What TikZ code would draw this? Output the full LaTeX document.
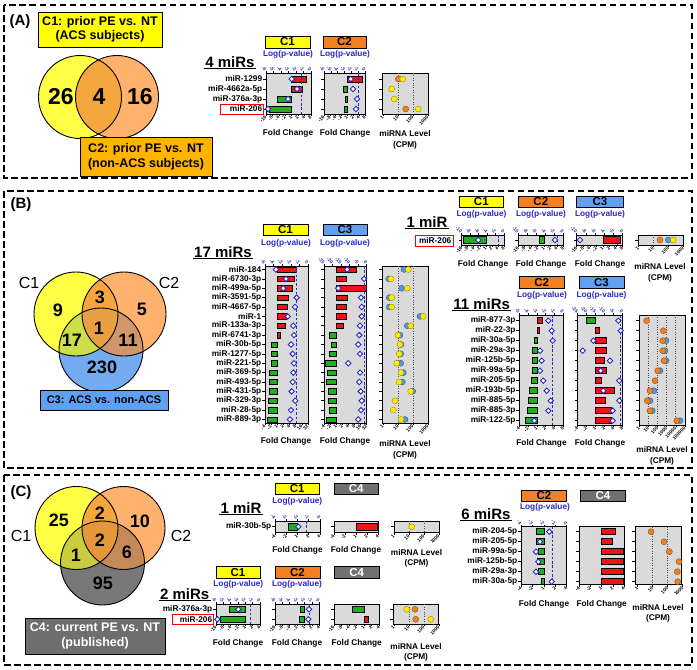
\documentclass[tikz,border=0pt]{standalone}
\usepackage{fontspec}
\setmainfont{Liberation Sans}
\usetikzlibrary{calc}
\definecolor{vyel}{RGB}{255,255,70}
\definecolor{vor}{RGB}{255,178,110}
\definecolor{vblue}{RGB}{116,170,240}
\definecolor{vgray}{RGB}{120,120,120}
\definecolor{vyo}{RGB}{246,166,62}
\definecolor{vyb}{RGB}{205,222,75}
\definecolor{vob}{RGB}{208,150,108}
\definecolor{vyob}{RGB}{232,160,68}
\definecolor{vyg}{RGB}{202,204,62}
\definecolor{vog}{RGB}{198,138,88}
\definecolor{vyog}{RGB}{228,152,58}
\definecolor{boxamber}{RGB}{255,180,0}
\definecolor{hyel}{RGB}{255,255,0}
\definecolor{hor}{RGB}{245,128,32}
\definecolor{hblue}{RGB}{95,160,240}
\definecolor{hgray}{RGB}{112,112,112}
\definecolor{c4gray}{RGB}{110,110,110}
\definecolor{boxgray}{RGB}{218,218,218}
\definecolor{fcred}{RGB}{238,20,20}
\definecolor{fcgreen}{RGB}{30,175,30}
\definecolor{pblue}{RGB}{40,40,200}
\definecolor{dyel}{RGB}{255,235,0}
\definecolor{dor}{RGB}{240,130,30}
\definecolor{dblue}{RGB}{85,150,230}
\newcommand\myfs[1]{\fontsize{#1}{#1}\selectfont\bfseries}
\newcounter{nn}
\tikzset{
 panel/.style={draw=black, line width=1.8pt, dash pattern=on 6.5pt off 3.5pt},
 plab/.style={font=\myfs{15}, inner sep=0pt},
 cbx/.style={draw=black, line width=0.9pt, align=center, inner sep=0pt, font=\fontsize{12.5}{14.5}\selectfont\bfseries},
 vline/.style={draw=black, line width=0.9pt},
 vnum/.style={font=\myfs{18}, inner sep=0pt},
 vlab/.style={font=\fontsize{16}{16}\selectfont, inner sep=0pt},
 mirs/.style={font=\myfs{15}, inner sep=1.2pt},
 cbox/.style={draw=black, line width=0.8pt, fill=boxgray},
 tk/.style={draw=black, line width=0.6pt},
 blab/.style={font=\myfs{4.8}, inner sep=0.2pt, rotate=45, anchor=east},
 tlab/.style={font=\myfs{4.8}, text=pblue, inner sep=0.2pt, rotate=-45, anchor=east},
 rlab/.style={font=\myfs{8.3}, inner sep=0pt, anchor=east},
 bar/.style={draw=black, line width=0.5pt},
 dmd/.style={draw=pblue, fill=white, line width=0.9pt},
 pdash/.style={draw=pblue, line width=0.8pt, dash pattern=on 2.5pt off 1.8pt},
 hdrst/.style={draw=black, line width=0.8pt},
 hdrtxt/.style={font=\myfs{11.5}, inner sep=0pt},
 logst/.style={font=\myfs{8.3}, text=pblue, inner sep=0pt},
 fcst/.style={font=\myfs{8.3}, inner sep=0pt},
 redbox/.style={draw=red, line width=0.9pt},
 lvdot/.style={line width=0.4pt},
 lvgrid/.style={draw=black!70, line width=0.8pt, dash pattern=on 0.8pt off 1.6pt},
}
\newcommand\baxis[5]{%
  \foreach \lab [count=\kk from 0] in {#5}{%
    \pgfmathsetmacro\xx{#1+\kk*(#2-#1)/#4}%
    \draw[tk] (\xx,#3) -- (\xx,#3+2.2);%
    \stepcounter{nn}\node[blab] (t\thenn) at (\xx,#3+2.6) {\lab};}}
\newcommand\taxis[5]{%
  \foreach \lab [count=\kk from 0] in {#5}{%
    \pgfmathsetmacro\xx{#1+\kk*(#2-#1)/#4}%
    \draw[tk] (\xx,#3) -- (\xx,#3-2.2);%
    \stepcounter{nn}\node[tlab] (t\thenn) at (\xx,#3-2.6) {\lab};}}
\newcommand\rowlabs[4]{%
  \foreach \lab [count=\kk from 0] in {#4}{%
    \pgfmathsetmacro\yy{#2+\kk*#3}%
    \draw[tk] (#1,\yy) -- (#1-3,\yy);%
    \stepcounter{nn}\node[rlab] (t\thenn) at (#1-3.6,\yy) {\lab};}}
\newcommand\rowticks[4]{%
  \foreach \kk in {1,...,#4}{%
    \pgfmathsetmacro\yy{#2+(\kk-1)*#3}%
    \draw[tk] (#1,\yy) -- (#1-3,\yy);}}
\newcommand\fcrows[8]{%
  \foreach \ri/\re/\rd in {#8}{%
    \pgfmathsetmacro\yy{#2+(\ri-1)*#3}%
    \ifdim\re pt>#1pt\def\bc{fcred}\else\def\bc{fcgreen}\fi
    \draw[bar,fill=\bc] (#1,\yy-#4) rectangle (\re,\yy+#4);}%
  \draw[pdash] (#5,#6) -- (#5,#7);%
  \foreach \ri/\re/\rd in {#8}{%
    \pgfmathsetmacro\yy{#2+(\ri-1)*#3}%
    \draw[dmd] (\rd,\yy-2.7) -- (\rd+2.7,\yy) -- (\rd,\yy+2.7) -- (\rd-2.7,\yy) -- cycle;}}
\newcommand\fcbars[5]{%
  \foreach \ri/\re in {#5}{%
    \pgfmathsetmacro\yy{#2+(\ri-1)*#3}%
    \ifdim\re pt>#1pt\def\bc{fcred}\else\def\bc{fcgreen}\fi
    \draw[bar,fill=\bc] (#1,\yy-#4) rectangle (\re,\yy+#4);}}
\newcommand\lvframe[8]{%
  \draw[cbox] (#1,#2) rectangle (#3,#4);%
  \foreach \kk in {#7}{\draw[lvgrid] (#5+\kk*#6,#2) -- (#5+\kk*#6,#4);}%
  \foreach \lab [count=\kk from 0] in {#8}{%
    \pgfmathsetmacro\xx{#5+\kk*#6}%
    \draw[tk] (\xx,#4) -- (\xx,#4+2.2);%
    \stepcounter{nn}\node[blab] (t\thenn) at (\xx,#4+2.6) {\lab};}}
\newcommand\lvdots[3]{%
  \foreach \ri/\px/\cc in {#3}{%
    \pgfmathsetmacro\yy{#1+(\ri-1)*#2}%
    \draw[lvdot, draw=\cc!60!black, fill=\cc] (\px,\yy) circle[radius=3pt];}}
\newcommand\hdr[7]{%
  \draw[hdrst, fill=#5] (#1,#2) rectangle (#3,#4);%
  \stepcounter{nn}\node[hdrtxt, text=#6] (t\thenn) at ({(#1+#3)/2},{(#2+#4)/2}) {#7};}
\newcommand\myuline[1]{\draw[line width=1.1pt] (#1.south west) -- (#1.south east);}
\begin{document}
\begin{tikzpicture}[x=1pt,y=-1pt,font=\bfseries]
\useasboundingbox (0,0) rectangle (697,670);
\fill[white] (0,0) rectangle (697,670);

%%%%%%%%%%%%%%%% PANEL A
\draw[panel] (4,5) rectangle (692,178);
\node[plab] (pA) at (20,22) {(A)};
\fill[vyel] (80,97) circle[radius=41.5pt];
\fill[vor] (117,97) circle[radius=41.5pt];
\begin{scope}
 \clip (80,97) circle[radius=41.5pt];
 \fill[vyo] (117,97) circle[radius=41.5pt];
\end{scope}
\draw[vline] (80,97) circle[radius=41.5pt];
\draw[vline] (117,97) circle[radius=41.5pt];
\node[vnum, font=\myfs{23}] (a26) at (61,97) {26};
\node[vnum, font=\myfs{23}] (a4) at (99,97) {4};
\node[vnum, font=\myfs{23}] (a16) at (140,97) {16};
\node[cbx, fill=hyel, minimum width=124pt, minimum height=35pt] (c1box) at (100,29.5) {C1: prior PE vs. NT\\(ACS subjects)};
\node[cbx, fill=boxamber, minimum width=132pt, minimum height=39pt] (c2box) at (146,157) {C2: prior PE vs. NT\\(non-ACS subjects)};

\node[mirs] (m4) at (230,62) {4 miRs};
\myuline{m4}
% A C1
\hdr{265}{36}{310}{48}{hyel}{black}{C1}
\node[logst] (alog1) at (288,54) {Log(p-value)};
\draw[cbox] (266,73) rectangle (311,114);
\fcrows{291.7}{79}{10}{3.2}{301}{73}{114}{1/306/291.7,2/302.7/297,3/277.3/288,4/269.3/268}
\taxis{266}{311}{73}{6}{-6,-5,-4,-3,-2,-1,0}
\baxis{266}{311}{114}{7}{-16,-8,-4,-2,1,2,4,8}
\rowlabs{266}{79}{10}{miR-1299,miR-4662a-5p,miR-376a-3p,miR-206}
\draw[redbox] (220,104) rectangle (263.5,114.3);
\node[fcst] (afc1) at (288,133) {Fold Change};
% A C2
\hdr{323}{36}{366}{48}{hor}{black}{C2}
\node[logst] (alog2) at (345,54) {Log(p-value)};
\draw[cbox] (324,73) rectangle (365,114);
\fcrows{347.4}{79}{10}{3.2}{358}{73}{114}{1/362/350.7,2/343/353,3/345/357,4/344/356}
\taxis{324}{365}{73}{6}{-6,-5,-4,-3,-2,-1,0}
\baxis{324}{365}{114}{7}{-16,-8,-4,-2,1,2,4,8}
\rowticks{324}{79}{10}{4}
\node[fcst] (afc2) at (345,133) {Fold Change};
% A level
\lvframe{382}{73}{428}{114}{383}{15}{1,2}{1,10,100,1000}
\rowticks{382}{79}{10}{4}
\lvdots{79}{10}{1/398.3/dor,1/402.7/dyel,2/391.7/dyel,3/394.3/dyel,4/405.7/dor,4/418.3/dyel}
\node[fcst] (alv1) at (405,134) {miRNA Level};
\node[fcst] (alv2) at (405,145) {(CPM)};

%%%%%%%%%%%%%%%% PANEL B
\draw[panel] (4,191) rectangle (692,468);
\node[plab] (pB) at (21,205) {(B)};
\fill[vblue] (101,350) circle[radius=42pt];
\fill[vyel] (76,314) circle[radius=42pt];
\fill[vor] (124,314) circle[radius=42pt];
\begin{scope}
 \clip (76,314) circle[radius=42pt];
 \fill[vyo] (124,314) circle[radius=42pt];
 \fill[vyb] (101,350) circle[radius=42pt];
\end{scope}
\begin{scope}
 \clip (124,314) circle[radius=42pt];
 \fill[vob] (101,350) circle[radius=42pt];
\end{scope}
\begin{scope}
 \clip (76,314) circle[radius=42pt];
 \clip (124,314) circle[radius=42pt];
 \fill[vyob] (101,350) circle[radius=42pt];
\end{scope}
\draw[vline] (101,350) circle[radius=42pt];
\draw[vline] (76,314) circle[radius=42pt];
\draw[vline] (124,314) circle[radius=42pt];
\node[vlab] (bc1) at (29,283) {C1};
\node[vlab] (bc2) at (169,283) {C2};
\node[vnum] (b9) at (58,310) {9};
\node[vnum] (b3) at (100,297) {3};
\node[vnum] (b5) at (142,309) {5};
\node[vnum] (b1) at (99,328) {1};
\node[vnum] (b17) at (72,340) {17};
\node[vnum] (b11) at (128,340) {11};
\node[vnum] (b230) at (102,367) {230};
\node[cbx, fill=hblue, minimum width=128pt, minimum height=20pt, font=\myfs{11}] (c3box) at (104,400) {C3: ACS vs. non-ACS};

\node[mirs] (m17) at (223,252) {17 miRs};
\myuline{m17}
% B C1
\hdr{263}{224}{308}{235}{hyel}{black}{C1}
\node[logst] (blog1) at (286,243) {Log(p-value)};
\draw[cbox] (265,266) rectangle (308,423);
\fcrows{277.3}{269.5}{9.375}{2.7}{296.8}{266}{423}{1/296.7/276,2/294/286,3/292.3/283.3,4/288.3/296.7,5/287.7/295,6/286.7/287.7,7/285.7/293.3,8/280.7/294,9/271.7/291,10/271.7/292.7,11/271/294,12/269.3/293.3,13/269.3/292.7,14/269.3/291.7,15/268.7/295.3,16/268.3/291,17/267.3/290}
\taxis{265}{308}{266}{5}{-5,-4,-3,-2,-1,0}
\baxis{265}{308}{423}{7}{-4,-2,1,2,4,8,16,32}
\rowlabs{265}{269.5}{9.375}{miR-184,miR-6730-3p,miR-499a-5p,miR-3591-5p,miR-4667-5p,miR-1,miR-133a-3p,miR-6741-3p,miR-30b-5p,miR-1277-5p,miR-221-5p,miR-369-5p,miR-493-5p,miR-431-5p,miR-329-3p,miR-28-5p,miR-889-3p}
\node[fcst] (bfc1) at (286,441) {Fold Change};
% B C3
\hdr{323}{224}{367}{235}{hblue}{black}{C3}
\node[logst] (blog3) at (345,243) {Log(p-value)};
\draw[cbox] (324.3,266) rectangle (366.7,423);
\fcrows{336.4}{269.5}{9.375}{2.7}{364.5}{266}{423}{1/356.7/347.3,2/346/364,3/366.7/338.3,4/347.3/361,5/346/361.7,6/346/361.7,7/343.3/360,8/329.3/359.3,9/331.7/358.3,10/329.3/360,11/325/348.3,12/327.7/360,13/326.7/359.3,14/328.3/360.7,15/328.3/361.7,16/329.3/361,17/326/358.3}
\taxis{324.3}{366.7}{266}{5}{-25,-20,-15,-10,-5,0}
\baxis{324.3}{366.7}{423}{7}{-4,-2,1,2,4,8,16,32}
\rowticks{324.3}{269.5}{9.375}{17}
\node[fcst] (bfc3) at (345,441) {Fold Change};
% B level
\lvframe{382}{266}{428}{423}{383}{15}{1,2}{1,10,100,1000}
\rowticks{382}{269.5}{9.375}{17}
\lvdots{269.5}{9.375}{1/404/dblue,1/408.3/dyel,2/388.7/dblue,2/391/dyel,3/401.7/dblue,3/407.3/dyel,4/389.3/dblue,4/391.7/dyel,5/389.3/dblue,5/391.7/dyel,6/420/dblue,6/423.3/dyel,7/407.3/dblue,7/410.7/dyel,8/400/dblue,8/397.7/dyel,9/401/dblue,9/400/dyel,10/400.7/dblue,10/399.3/dyel,11/400.7/dblue,11/396.7/dyel,12/403.3/dblue,12/401/dyel,13/402.3/dblue,13/399/dyel,14/412.7/dblue,14/410.7/dyel,15/395/dyel,16/393.3/dyel,17/405/dblue,17/401/dyel}
\node[fcst] (blv1) at (405,444) {miRNA Level};
\node[fcst] (blv2) at (405,455) {(CPM)};

% B 1 miR
\node[mirs] (m1b) at (427,222) {1 miR};
\myuline{m1b}
\node[rlab] (l206b) at (451.5,240.5) {miR-206};
\draw[redbox] (415,235) rectangle (453.5,246);
\rowticks{461.7}{240}{10}{1}
\hdr{459.3}{196}{503.3}{207}{hyel}{black}{C1}
\node[logst] (b1log1) at (481.5,214) {Log(p-value)};
\draw[cbox] (461.7,235) rectangle (504,245);
\fcrows{485.9}{240}{10}{3.3}{498.5}{235}{245}{1/463.3/478.3}
\taxis{461.7}{504}{235}{5}{-10,-8,-6,-4,-2,0}
\baxis{461.7}{504}{245}{7}{-16,-8,-4,-2,1,2,4,8}
\node[fcst] (b1fc1) at (483,264) {Fold Change};
\hdr{518.3}{196}{563.3}{207}{hor}{black}{C2}
\node[logst] (b1log2) at (541,214) {Log(p-value)};
\draw[cbox] (518.3,235) rectangle (563.3,245);
\rowticks{518.3}{240}{10}{1}
\fcrows{544}{240}{10}{3.3}{557.5}{235}{245}{1/539.3/555}
\taxis{518.3}{563.3}{235}{5}{-10,-8,-6,-4,-2,0}
\baxis{518.3}{563.3}{245}{7}{-16,-8,-4,-2,1,2,4,8}
\node[fcst] (b1fc2) at (541,264) {Fold Change};
\hdr{576.7}{196}{623}{207}{hblue}{black}{C3}
\node[logst] (b1log3) at (600,214) {Log(p-value)};
\draw[cbox] (576.7,235) rectangle (622.7,245);
\rowticks{576.7}{240}{10}{1}
\fcrows{603}{240}{10}{3.3}{617.5}{235}{245}{1/620/580}
\taxis{576.7}{622.7}{235}{5}{-10,-8,-6,-4,-2,0}
\baxis{576.7}{622.7}{245}{7}{-16,-8,-4,-2,1,2,4,8}
\node[fcst] (b1fc3) at (600,264) {Fold Change};
\lvframe{638.3}{235}{683.3}{245}{638.3}{15}{1,2}{1,10,100,1000}
\rowticks{638.3}{240}{10}{1}
\lvdots{240}{10}{1/660/dor,1/668.3/dblue,1/673.3/dyel}
\node[fcst] (b1lv1) at (660,267) {miRNA Level};
\node[fcst] (b1lv2) at (660,278) {(CPM)};

% B 11 miRs
\node[mirs] (m11) at (481.7,304) {11 miRs};
\myuline{m11}
\hdr{519.3}{276.7}{564}{288.3}{hor}{black}{C2}
\node[logst] (b11log2) at (542,295) {Log(p-value)};
\draw[cbox] (519.3,315) rectangle (563.3,425);
\fcrows{536.9}{320.7}{10}{3}{551.9}{315}{425}{1/542.7/548.3,2/539.3/551.7,3/534.3/552.7,4/532.7/540,5/532.3/541.7,6/532.3/540,7/531.7/543.3,8/529/546.7,9/528.3/550.7,10/527.3/548.3,11/525/534.3}
\taxis{519.3}{563.3}{315}{5}{-5,-4,-3,-2,-1,0}
\baxis{519.3}{563.3}{425}{5}{-4,-2,1,2,4,8}
\rowlabs{519.3}{320.7}{10}{miR-877-3p,miR-22-3p,miR-30a-5p,miR-29a-3p,miR-125b-5p,miR-99a-5p,miR-205-5p,miR-193b-5p,miR-885-5p,miR-885-3p,miR-122-5p}
\node[fcst] (b11fc2) at (541.5,443) {Fold Change};
\hdr{579}{276.7}{624}{288.3}{hblue}{black}{C3}
\node[logst] (b11log3) at (601.5,295) {Log(p-value)};
\draw[cbox] (577.7,315) rectangle (622.7,425);
\rowticks{577.7}{320.7}{10}{11}
\fcrows{595.7}{320.7}{10}{3}{620.4}{315}{425}{1/586.7/618.3,2/599.3/620.7,3/606.7/593.3,4/606/582.7,5/604.3/610,6/606.7/600.7,7/601/619.3,8/614.3/603.3,9/605.7/619.3,10/611.7/612.7,11/611.7/612.7}
\taxis{577.7}{622.7}{315}{5}{-25,-20,-15,-10,-5,0}
\baxis{577.7}{622.7}{425}{5}{-4,-2,1,2,4,8}
\node[fcst] (b11fc3) at (600,443) {Fold Change};
\lvframe{639.3}{315}{685}{425}{639.3}{9.14}{1,2,3,4}{1,10,100,1000,10000,100000}
\rowticks{639.3}{320.7}{10}{11}
\lvdots{320.7}{10}{1/646.7/dor,2/663.3/dor,3/666/dblue,3/662.7/dor,4/665/dblue,4/662.7/dor,5/666/dblue,5/664/dor,6/660/dblue,6/657.7/dor,7/655/dor,8/654/dblue,8/650/dor,9/650/dblue,9/647.3/dor,10/652.3/dblue,10/650/dor,11/680/dblue,11/676.7/dor}
\node[fcst] (b11lv1) at (662,450) {miRNA Level};
\node[fcst] (b11lv2) at (662,461) {(CPM)};

%%%%%%%%%%%%%%%% PANEL C
\draw[panel] (4,475) rectangle (692,665);
\node[plab] (pC) at (21,493) {(C)};
\fill[vgray] (102.5,563) circle[radius=42pt];
\fill[vyel] (76.5,528) circle[radius=41.5pt];
\fill[vor] (123.5,528) circle[radius=41.5pt];
\begin{scope}
 \clip (76.5,528) circle[radius=41.5pt];
 \fill[vyo] (123.5,528) circle[radius=41.5pt];
 \fill[vyg] (102.5,563) circle[radius=42pt];
\end{scope}
\begin{scope}
 \clip (123.5,528) circle[radius=41.5pt];
 \fill[vog] (102.5,563) circle[radius=42pt];
\end{scope}
\begin{scope}
 \clip (76.5,528) circle[radius=41.5pt];
 \clip (123.5,528) circle[radius=41.5pt];
 \fill[vyog] (102.5,563) circle[radius=42pt];
\end{scope}
\draw[vline] (102.5,563) circle[radius=42pt];
\draw[vline] (76.5,528) circle[radius=41.5pt];
\draw[vline] (123.5,528) circle[radius=41.5pt];
\node[vlab] (cc1) at (21,536) {C1};
\node[vlab] (cc2) at (181,536) {C2};
\node[vnum] (c25) at (59,520) {25};
\node[vnum] (c2a) at (100,513) {2};
\node[vnum] (c10) at (140,521) {10};
\node[vnum] (c2b) at (100,540) {2};
\node[vnum] (c1) at (76,555) {1};
\node[vnum] (c6) at (127,552) {6};
\node[vnum] (c95) at (103,583) {95};
\node[cbx, fill=c4gray, text=white, minimum width=140pt, minimum height=36pt] (c4box) at (95,636) {C4: current PE vs. NT\\(published)};

% C 1 miR
\node[mirs] (m1c) at (241,508) {1 miR};
\myuline{m1c}
\rowlabs{275}{526.7}{10}{miR-30b-5p}
\hdr{275}{483.3}{319.3}{494.3}{hyel}{black}{C1}
\node[logst] (c1log1) at (297.3,501.7) {Log(p-value)};
\draw[cbox] (275,521) rectangle (320,532.3);
\fcrows{297.5}{526.7}{10}{3.3}{306}{521}{532.3}{1/288.3/298.3}
\taxis{275}{320}{521}{4}{-4,-3,-2,-1,0}
\baxis{275}{320}{532.3}{4}{-4,-2,1,2,4}
\node[fcst] (c1fc1) at (297.5,550) {Fold Change};
\hdr{334}{483.3}{378.3}{494.3}{hgray}{white}{C4}
\draw[cbox] (334,521) rectangle (378.3,532.3);
\rowticks{334}{526.7}{10}{1}
\fcbars{356.2}{526.7}{10}{3.3}{1/377.3}
\baxis{334}{378.3}{532.3}{4}{-4,-2,1,2,4}
\node[fcst] (c1fc4) at (356,550) {Fold Change};
\lvframe{394}{521}{439.3}{532.3}{394}{15}{1,2}{1,10,100,1000}
\rowticks{394}{526.7}{10}{1}
\lvdots{526.7}{10}{1/411.7/dyel}
\node[fcst] (c1lv1) at (416.5,553) {miRNA Level};
\node[fcst] (c1lv2) at (416.5,563.5) {(CPM)};

% C 2 miRs
\node[mirs] (m2) at (184.7,594) {2 miRs};
\myuline{m2}
\rowlabs{216}{609.3}{10}{miR-376a-3p,miR-206}
\draw[redbox] (172,614.3) rectangle (213,624.5);
\hdr{216}{566.7}{260}{578.3}{hyel}{black}{C1}
\node[logst] (c2log1) at (238.3,584.3) {Log(p-value)};
\draw[cbox] (216,604.3) rectangle (260,624);
\fcrows{245.3}{609.3}{10}{3}{250.5}{604.3}{624}{1/229.3/238.3,2/220/217.3}
\taxis{216}{260}{604.3}{6}{-6,-5,-4,-3,-2,-1,0}
\baxis{216}{260}{624}{6}{-16,-8,-4,-2,1,2,4}
\node[fcst] (c2fc1) at (238,643.3) {Fold Change};
\hdr{275}{566.7}{320}{578.3}{hor}{black}{C2}
\node[logst] (c2log2) at (297,584.3) {Log(p-value)};
\draw[cbox] (275,604.3) rectangle (319.3,624);
\rowticks{275}{609.3}{10}{2}
\fcrows{304.5}{609.3}{10}{3}{309.7}{604.3}{624}{1/300/309,2/299/308.3}
\taxis{275}{319.3}{604.3}{6}{-6,-5,-4,-3,-2,-1,0}
\baxis{275}{319.3}{624}{6}{-16,-8,-4,-2,1,2,4}
\node[fcst] (c2fc2) at (297,643.3) {Fold Change};
\hdr{334}{566.7}{379.3}{578.3}{hgray}{white}{C4}
\draw[cbox] (334,604.3) rectangle (379.3,624);
\rowticks{334}{609.3}{10}{2}
\fcbars{364.2}{609.3}{10}{3}{1/352.7,2/368.3}
\baxis{334}{379.3}{624}{6}{-16,-8,-4,-2,1,2,4}
\node[fcst] (c2fc4) at (356.7,643.3) {Fold Change};
\lvframe{393.3}{604.3}{438.3}{624}{394}{15}{1,2}{1,10,100,1000}
\rowticks{393.3}{609.3}{10}{2}
\lvdots{609.3}{10}{1/406.7/dyel,1/415/dor,2/415.7/dor,2/430.7/dyel}
\node[fcst] (c2lv1) at (416,646.7) {miRNA Level};
\node[fcst] (c2lv2) at (416,657.3) {(CPM)};

% C 6 miRs
\node[mirs] (m6) at (486,514) {6 miRs};
\myuline{m6}
\rowlabs{521}{531.7}{10}{miR-204-5p,miR-205-5p,miR-99a-5p,miR-125b-5p,miR-29a-3p,miR-30a-5p}
\hdr{521.7}{490}{566}{501}{hor}{black}{C2}
\node[logst] (c6log2) at (545,507.7) {Log(p-value)};
\draw[cbox] (521,526.7) rectangle (566.7,584.3);
\fcrows{543.8}{531.7}{10}{3}{551.9}{526.7}{584.3}{1/536/549.3,2/536.7/540,3/538.3/536,4/537.3/538.3,5/538.3/536,6/541/551.7}
\taxis{521}{566.7}{526.7}{4}{-4,-3,-2,-1,0}
\baxis{521}{566.7}{584.3}{4}{-4,-2,1,2,4}
\node[fcst] (c6fc2) at (544,604) {Fold Change};
\hdr{580.7}{490}{625}{501}{hgray}{white}{C4}
\draw[cbox] (579.3,526.7) rectangle (624,584.3);
\rowticks{579.3}{531.7}{10}{6}
\fcbars{601.7}{531.7}{10}{3}{1/615.7,2/612.7,3/623.3,4/623.3,5/623.3,6/623.3}
\baxis{579.3}{624}{584.3}{4}{-4,-2,1,2,4}
\node[fcst] (c6fc4) at (601.7,604) {Fold Change};
\lvframe{635}{526.7}{681.7}{584.3}{637.7}{15}{1,2}{1,10,100,1000}
\rowticks{635}{531.7}{10}{6}
\lvdots{531.7}{10}{1/651/dor,2/664/dor,3/669.3/dor,4/679/dor,5/677.3/dor,6/677.7/dor}
\node[fcst] (c6lv1) at (658,607.7) {miRNA Level};
\node[fcst] (c6lv2) at (658,618.3) {(CPM)};
\end{tikzpicture}
\end{document}
